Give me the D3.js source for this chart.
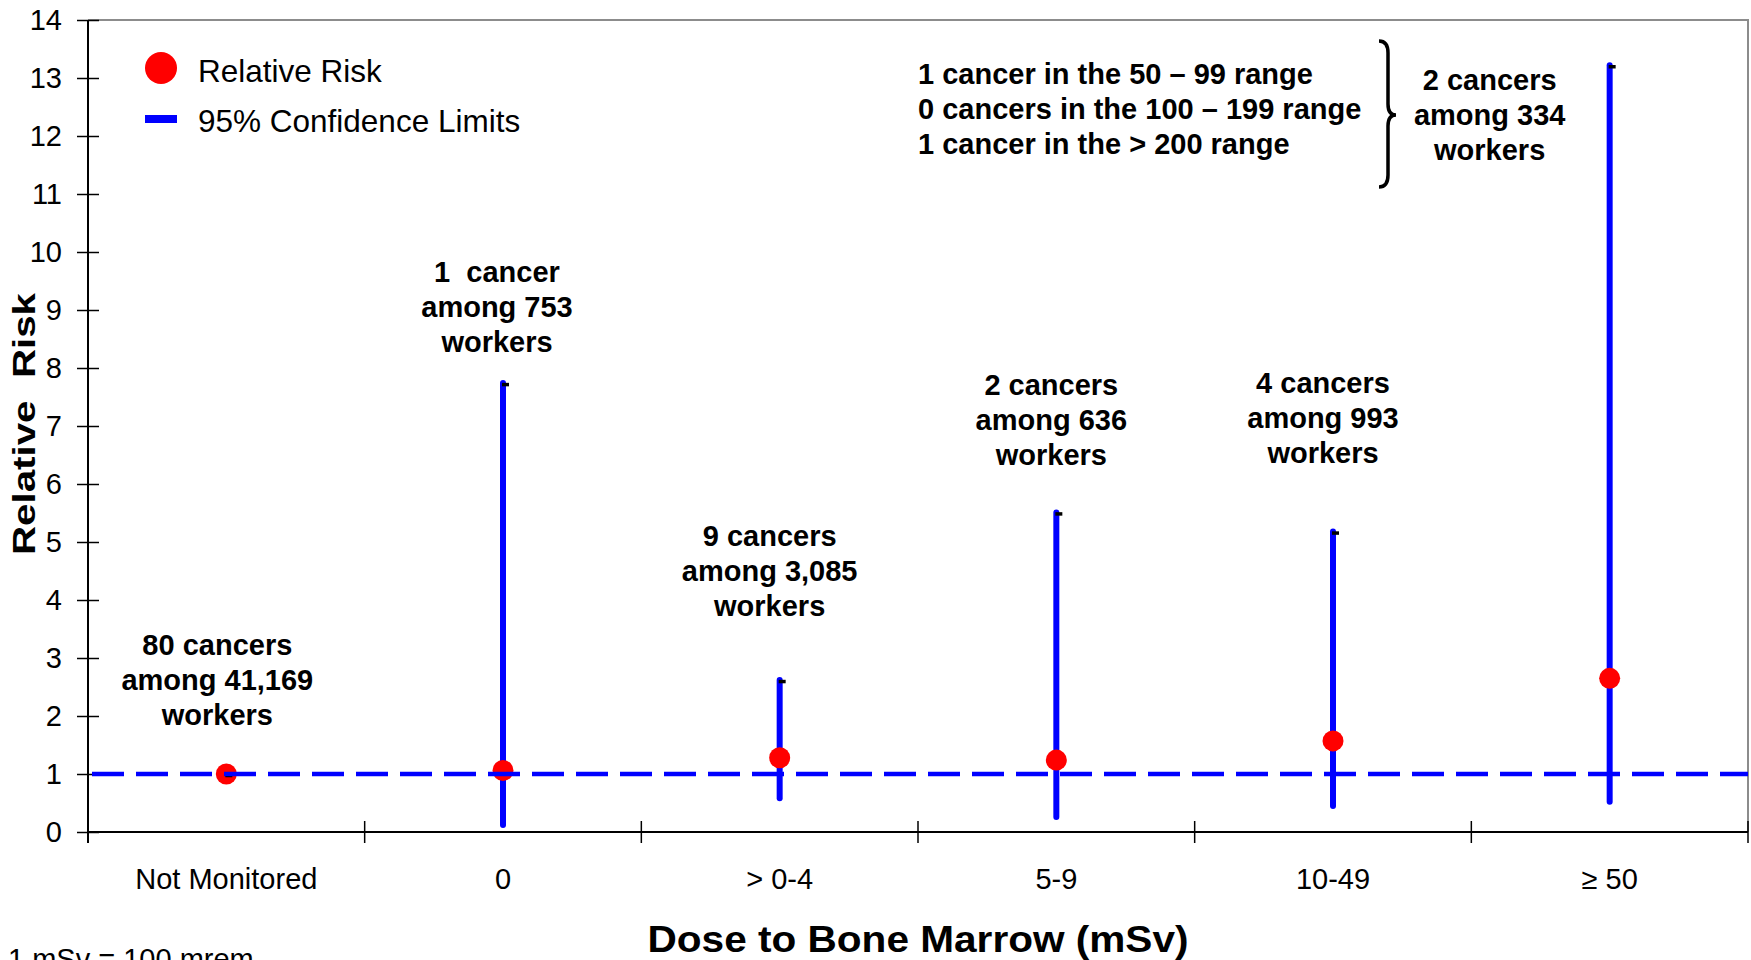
<!DOCTYPE html>
<html>
<head>
<meta charset="utf-8">
<script src="https://cdn.jsdelivr.net/npm/d3@7"></script>
<style>
  html, body { margin: 0; padding: 0; background: #fff; overflow: hidden; }
  svg { display: block; font-family: "Liberation Sans", Arial, sans-serif; }
  text { white-space: pre; }
</style>
</head>
<body>
<svg id="chart" width="1751" height="960"></svg>
<script>
// Dose categories (mSv to bone marrow)
const categories = ["Not Monitored", "0", "> 0-4", "5-9", "10-49", "\u2265 50"];
// Relative risk point estimates
const relativeRisk = [1.0, 1.06, 1.28, 1.24, 1.57, 2.65];
// 95% confidence limits
const ciLower = [1.0, 0.12, 0.58, 0.26, 0.45, 0.52];
const ciUpper = [1.0, 7.74, 2.62, 5.51, 5.18, 13.22];
// Case counts per category
const cancerLines = [
  ["80 cancers", "among 41,169", "workers"],
  ["1  cancer", "among 753", "workers"],
  ["9 cancers", "among 3,085", "workers"],
  ["2 cancers", "among 636", "workers"],
  ["4 cancers", "among 993", "workers"],
  ["2 cancers", "among 334", "workers"]
];
// Breakdown of the highest dose group
const highDoseBreakdown = [
  "1 cancer in the 50 \u2013 99 range",
  "0 cancers in the 100 \u2013 199 range",
  "1 cancer in the > 200 range"
];
const yTicks = [0, 1, 2, 3, 4, 5, 6, 7, 8, 9, 10, 11, 12, 13, 14];
const referenceRisk = 1;

// Label placement: horizontal nudge (px) and first-line height (in risk units)
const labelDx = [-9, -6, -10, -5, -10, -120];
const labelTop = [3.05, 9.48, 4.93, 7.53, 7.57, 12.79];

(function draw() {
  const BLUE = "#0000ff", RED = "#ff0000";
  const svg = d3.select("#chart");
  const mLeft = 88, mRight = 1748, mTop = 20, mBottom = 832;

  const x = d3.scaleBand().domain(categories).range([mLeft, mRight]).padding(0);
  const y = d3.scaleLinear().domain([0, 14]).range([mBottom, mTop]);
  const cx = c => x(c) + x.bandwidth() / 2;

  const data = categories.map((c, i) => ({
    cat: c, rr: relativeRisk[i], lo: ciLower[i], hi: ciUpper[i], i
  }));

  // Plot frame (top and right edges)
  svg.append("path")
    .attr("d", `M${mLeft},${mTop}H${mRight}V${mBottom}`)
    .attr("fill", "none").attr("stroke", "#8c8c8c").attr("stroke-width", 2);

  // Y axis
  const yAxis = svg.append("g")
    .attr("transform", `translate(${mLeft},0)`)
    .call(d3.axisLeft(y).tickValues(yTicks).tickSize(0).tickPadding(26));
  yAxis.select(".domain").attr("stroke", "#000").attr("stroke-width", 2)
    .attr("d", `M0,${mTop}V${mBottom + 11}`);
  yAxis.selectAll(".tick line").attr("x1", -11).attr("x2", 11)
    .attr("stroke", "#000").attr("stroke-width", 1.5);
  yAxis.selectAll(".tick text")
    .attr("font-size", 29).attr("fill", "#000")
    .attr("font-family", "Liberation Sans, Arial, sans-serif");

  // X axis
  const xAxis = svg.append("g")
    .attr("transform", `translate(0,${mBottom})`)
    .call(d3.axisBottom(x).tickSize(0).tickPadding(36));
  xAxis.select(".domain").attr("stroke", "#000").attr("stroke-width", 2)
    .attr("d", `M${mLeft},0H${mRight}`);
  xAxis.selectAll(".tick text")
    .attr("font-size", 29).attr("fill", "#000")
    .attr("font-family", "Liberation Sans, Arial, sans-serif");
  // Category boundary ticks
  const bounds = categories.map(c => x(c)).concat([x.range()[1]]);
  xAxis.selectAll(".bound").data(bounds).join("line")
    .attr("class", "bound")
    .attr("x1", d => d).attr("x2", d => d)
    .attr("y1", -11).attr("y2", 11)
    .attr("stroke", "#000").attr("stroke-width", 1.5);

  // Confidence interval bars
  svg.append("g").selectAll("line").data(data).join("line")
    .attr("x1", d => cx(d.cat)).attr("x2", d => cx(d.cat))
    .attr("y1", d => y(d.lo)).attr("y2", d => y(d.hi))
    .attr("stroke", BLUE).attr("stroke-width", 6).attr("stroke-linecap", "round");

  // Relative risk points
  svg.append("g").selectAll("circle").data(data).join("circle")
    .attr("cx", d => cx(d.cat)).attr("cy", d => y(d.rr))
    .attr("r", 10.5).attr("fill", RED);

  // Upper limit caps
  svg.append("g").selectAll("line").data(data).join("line")
    .attr("x1", d => cx(d.cat) - 1).attr("x2", d => cx(d.cat) + 6)
    .attr("y1", d => y(d.hi) + 1.5).attr("y2", d => y(d.hi) + 1.5)
    .attr("stroke", "#000").attr("stroke-width", 3.5);

  // Reference line at relative risk = 1
  svg.append("line")
    .attr("x1", mLeft + 4).attr("x2", mRight)
    .attr("y1", y(referenceRisk)).attr("y2", y(referenceRisk))
    .attr("stroke", BLUE).attr("stroke-width", 4.5)
    .attr("stroke-dasharray", "32 12");

  // Case-count labels
  const lbl = svg.append("g")
    .attr("font-weight", "bold").attr("font-size", 29)
    .attr("text-anchor", "middle").attr("fill", "#000");
  data.forEach(d => {
    const t = lbl.append("text")
      .attr("x", cx(d.cat) + labelDx[d.i])
      .attr("y", y(labelTop[d.i]));
    cancerLines[d.i].forEach((line, k) => {
      t.append("tspan").attr("x", cx(d.cat) + labelDx[d.i])
        .attr("dy", k === 0 ? 0 : 35).text(line);
    });
  });

  // Breakdown text with brace
  const bd = svg.append("text")
    .attr("x", 918).attr("y", 84)
    .attr("font-weight", "bold").attr("font-size", 29).attr("fill", "#000");
  highDoseBreakdown.forEach((line, k) => {
    bd.append("tspan").attr("x", 918).attr("dy", k === 0 ? 0 : 35).text(line);
  });
  svg.append("path")
    .attr("d", "M1379,41 Q1388,41 1388,53 L1388,104 Q1388,115 1396,115 Q1388,115 1388,126 L1388,175 Q1388,187 1379,187")
    .attr("fill", "none").attr("stroke", "#000").attr("stroke-width", 3.5);

  // Legend
  const lg = svg.append("g");
  lg.append("circle").attr("cx", 161).attr("cy", 68).attr("r", 16).attr("fill", RED);
  lg.append("rect").attr("x", 145).attr("y", 115).attr("width", 32).attr("height", 8).attr("fill", BLUE);
  lg.append("text").attr("x", 198).attr("y", 82).attr("font-size", 31.5).text("Relative Risk");
  lg.append("text").attr("x", 198).attr("y", 132).attr("font-size", 31.5).text("95% Confidence Limits");

  // Axis titles
  svg.append("text")
    .attr("transform", `translate(35,424) rotate(-90)`)
    .attr("text-anchor", "middle").attr("font-weight", "bold").attr("font-size", 31)
    .attr("textLength", 262).attr("lengthAdjust", "spacingAndGlyphs")
    .text("Relative  Risk");
  svg.append("text")
    .attr("x", (mLeft + mRight) / 2).attr("y", 952)
    .attr("text-anchor", "middle").attr("font-weight", "bold").attr("font-size", 37)
    .attr("textLength", 541).attr("lengthAdjust", "spacingAndGlyphs")
    .text("Dose to Bone Marrow (mSv)");

  // Unit note, partly below the page edge
  svg.append("text").attr("x", 8).attr("y", 969).attr("font-size", 29)
    .text("1 mSv = 100 mrem");
})();
</script>
</body>
</html>
